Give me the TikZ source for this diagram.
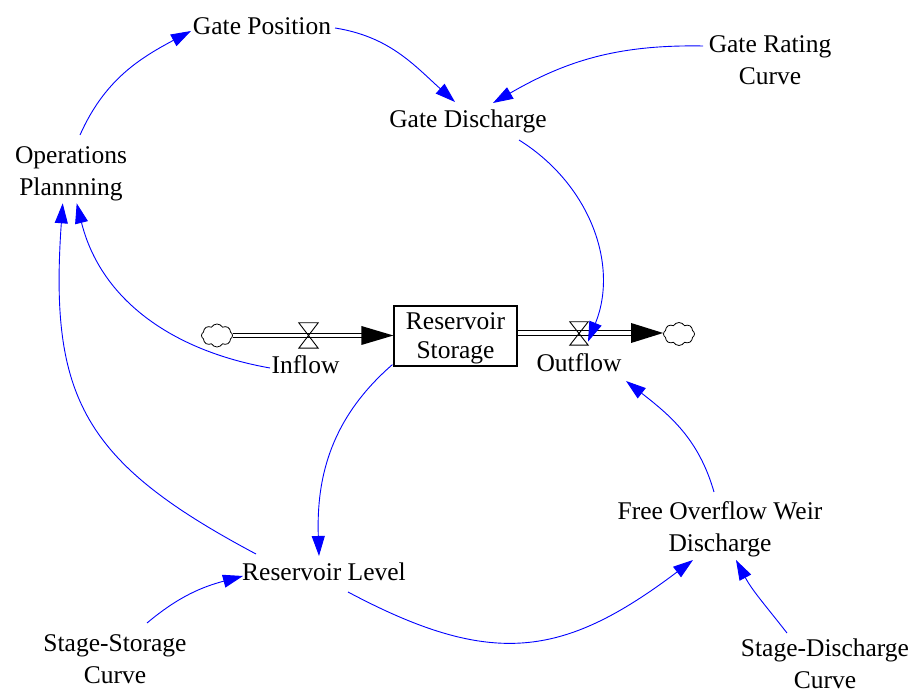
\documentclass[tikz,border=0pt]{standalone}
\usepackage{fontspec}
\setmainfont{Liberation Serif}
\usetikzlibrary{arrows.meta,shapes.symbols,calc}
\begin{document}
\begin{tikzpicture}[x=1pt,y=1pt,
  every node/.style={font=\fontsize{25.5}{32}\selectfont, inner sep=1pt},
  conn/.style={draw=blue, line width=0.9pt, -{Triangle[length=20pt,width=13pt]}},
  pipe/.style={line width=1.2pt},
  valvebox/.style={minimum width=19pt, minimum height=25pt, inner sep=0pt},
  valveline/.style={line width=0.9pt},
  cloudnode/.style={cloud, draw, cloud puffs=8, cloud puff arc=120, minimum width=31pt, minimum height=23pt, inner sep=0pt, line width=0.8pt},
  stock/.style={draw, line width=1.2pt, minimum width=123pt, minimum height=60pt, align=center, font=\fontsize{25.5}{29}\selectfont, inner sep=0pt, text depth=0pt}
]
\useasboundingbox[fill=white] (0,0) rectangle (916,693);

% variables
\node[anchor=base] (gp) at (262,658) {Gate Position};
\node[anchor=base] (gd) at (468,565) {Gate Discharge};
\node[align=center] (grc) at (770,632.5) {Gate Rating\\Curve};
\node[align=center] (ops) at (71,519.5) {Operations\\Plannning};
\node[anchor=base] (inflow) at (305.5,319) {Inflow};
\node[anchor=base] (outflow) at (579,321) {Outflow};
\node[anchor=base] (rl) at (324,112) {Reservoir Level};
\node[align=center] (fow) at (720,164) {Free Overflow Weir\\Discharge};
\node[align=center] (ssc) at (115,33.5) {Stage-Storage\\Curve};
\node[align=center] (sdc) at (825,29) {Stage-Discharge\\Curve};

% stock
\node[stock] (rs) at (455.5,357) {Reservoir\\Storage};

% clouds
\node[cloudnode] (cl) at (217,357.5) {};
\node[cloudnode] (cr) at (679,359) {};

% inflow pipe
\coordinate (inend) at (cl.east -| rs.west);
\draw[pipe] ($(cl.east)+(0,2.3)$) -- ($(inend)+(-31,2.3)$);
\draw[pipe] ($(cl.east)+(0,-2.3)$) -- ($(inend)+(-31,-2.3)$);
\fill (inend) -- ++(-32,9.5) -- ++(0,-19) -- cycle;
\node[valvebox] (vin) at (308.5,357.5) {};
\draw[valveline] (vin.north west) -- (vin.north east) -- (vin.south west) -- (vin.south east) -- cycle;

% outflow pipe
\coordinate (outstart) at ($(rs.east)+(0,3)$);
\coordinate (outend) at (outstart -| cr.west);
\draw[pipe] ($(outstart)+(0,2.5)$) -- ($(outend)+(-30,2.5)$);
\draw[pipe] ($(outstart)+(0,-2.5)$) -- ($(outend)+(-30,-2.5)$);
\fill (outend) -- ++(-32,10) -- ++(0,-20) -- cycle;
\node[valvebox, minimum width=18pt, minimum height=23pt] (vout) at (579,359.5) {};
\draw[valveline] (vout.north west) -- (vout.north east) -- (vout.south west) -- (vout.south east) -- cycle;

% connectors
\draw[conn] ($(ops.center)+(9,38.5)$) to[out=66,in=208] ($(gp.base)+(-71,4)$);
\draw[conn] ($(gp.base)+(73,7)$) to[out=-9,in=138] ($(gd.base)+(-13,26)$);
\draw[conn] ($(grc.center)+(-67,14.5)$) to[out=179,in=30] ($(gd.base)+(25,25)$);
\draw[conn] ($(gd.base)+(51,-12)$) to[out=-32,in=68] ($(vout.center)+(9,-8.2)$);
\draw[conn] ($(inflow.base)+(-35.5,6)$) to[out=170,in=-76] ($(ops.center)+(5.7,-29.8)$);
\draw[conn] ($(rl.base)+(-68,27)$) to[out=152,in=-94,looseness=1.25] ($(ops.center)+(-8.3,-29.8)$);
\draw[conn] ($(rs.south west)+(-1,2)$) to[out=221,in=92] ($(rl.base)+(-5,25)$);
\draw[conn] ($(rl.base)+(24,-11)$) to[out=-28,in=217,looseness=1.2] ($(fow.center)+(-27,-31)$);
\draw[conn] ($(ssc.center)+(32,36.5)$) to[out=40,in=195] ($(rl.base)+(-81,5)$);
\draw[conn] ($(fow.center)+(-6,37)$) to[out=106,in=-38] ($(outflow.base)+(47,-9)$);
\draw[conn] ($(sdc.center)+(-38,31)$) to[out=128,in=-62] ($(fow.center)+(16,-31)$);
\end{tikzpicture}
\end{document}
